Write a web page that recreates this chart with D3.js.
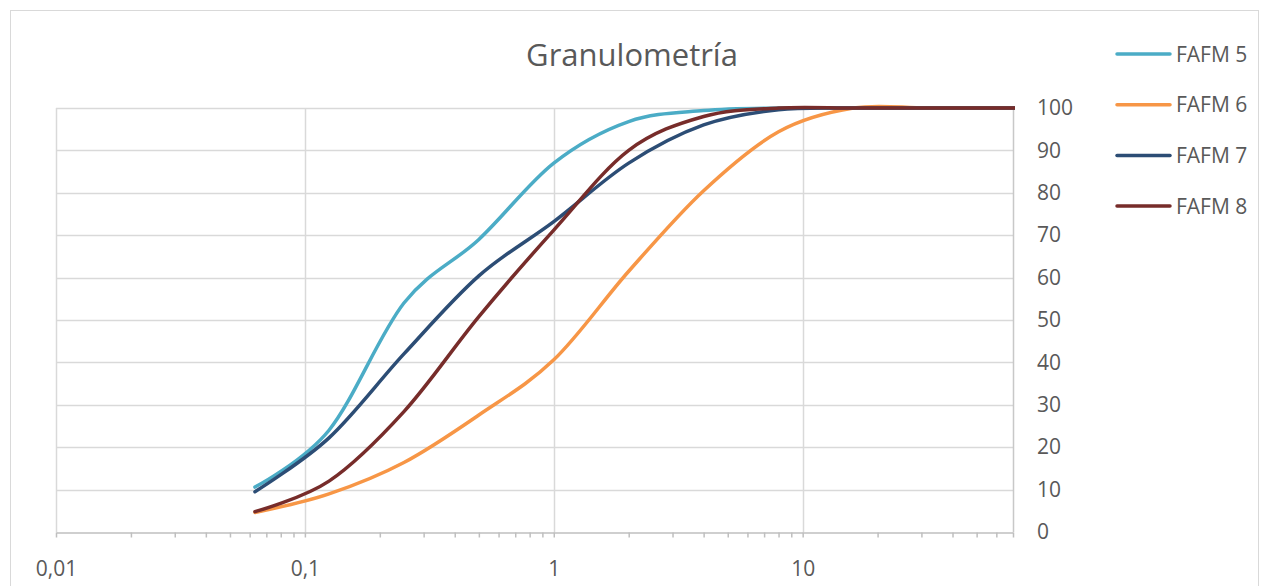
<!DOCTYPE html>
<html><head><meta charset="utf-8">
<script src="https://cdn.jsdelivr.net/npm/d3@7"></script>
<style>
body{margin:0;background:#fff}
svg{display:block}
text{font-family:"Open Sans",sans-serif;fill:#595959}
</style></head><body>
<script>
const titleText = "Granulometría";
const sizes = [0.063, 0.125, 0.25, 0.5, 1, 2, 4, 8, 16, 31.5, 63, 125];
const fafm5 = [10.6, 24, 54, 69, 87, 96.8, 99.4, 100, 100, 100, 100, 100];
const fafm6 = [4.6, 9, 16.4, 27.6, 40.6, 61.5, 80.5, 94.4, 100, 100, 100, 100];
const fafm7 = [9.5, 22.2, 42, 60.4, 73.2, 87, 96, 99.6, 100, 100, 100, 100];
const fafm8 = [4.8, 12, 28.4, 50.8, 71.2, 90, 98, 100, 100, 100, 100, 100];
const seriesNames = ["FAFM 5", "FAFM 6", "FAFM 7", "FAFM 8"];
const seriesColors = ["#4bacc6", "#f79646", "#2c4d75", "#772c2a"];
const xMajorTicks = [0.01, 0.1, 1, 10];
const yTicks = [0, 10, 20, 30, 40, 50, 60, 70, 80, 90, 100];
const xDomain = [0.01, 70];

const W = 1261, H = 586;
const plot = {left: 56, right: 1013, top: 108, bottom: 532};

const svg = d3.select("body").append("svg").attr("width", W).attr("height", H);

// chart area border
svg.append("rect").attr("x", 10.5).attr("y", 10.5).attr("width", 1248).attr("height", 620)
  .attr("fill", "none").attr("stroke", "#d9d9d9");

const x = d3.scaleLog().domain(xDomain).range([plot.left, plot.right]);
const y = d3.scaleLinear().domain([0, 100]).range([plot.bottom, plot.top]);

const loc = d3.formatLocale({decimal: ",", thousands: ".", grouping: [3], currency: ["", "€"]});
const fmt = loc.format("~g");

// horizontal gridlines
svg.append("g").selectAll("line").data(yTicks.filter(d => d > 0)).join("line")
  .attr("x1", plot.left).attr("x2", plot.right)
  .attr("y1", d => Math.round(y(d)) + 0.5).attr("y2", d => Math.round(y(d)) + 0.5)
  .attr("stroke", "#d9d9d9").attr("stroke-width", 1.5);

// vertical gridlines at decades
svg.append("g").selectAll("line").data(xMajorTicks).join("line")
  .attr("x1", d => Math.round(x(d)) + 0.5).attr("x2", d => Math.round(x(d)) + 0.5)
  .attr("y1", plot.top).attr("y2", plot.bottom)
  .attr("stroke", "#d9d9d9").attr("stroke-width", 1.5);

// right edge
svg.append("line").attr("x1", plot.right + 0.5).attr("x2", plot.right + 0.5)
  .attr("y1", plot.top).attr("y2", plot.bottom)
  .attr("stroke", "#c8c8c8").attr("stroke-width", 1.5);

// x axis
const allTicks = x.ticks();
const xAxis = d3.axisBottom(x).tickValues(allTicks)
  .tickFormat(d => xMajorTicks.some(m => Math.abs(m - d) < 1e-9) ? fmt(d) : "")
  .tickSize(5).tickSizeOuter(0).tickPadding(24);
const gx = svg.append("g").attr("transform", `translate(0,${plot.bottom + 0.5})`).call(xAxis);
gx.select(".domain").attr("stroke", "#bfbfbf").attr("stroke-width", 1.5);
gx.selectAll(".tick line").attr("stroke", "#bfbfbf").attr("stroke-width", 1.5);
gx.selectAll("text").attr("font-size", 21).attr("fill", "#595959").attr("font-family", '"Open Sans",sans-serif');

// y axis labels on right
const yAxis = d3.axisRight(y).tickValues(yTicks).tickSize(0).tickPadding(24);
const gy = svg.append("g").attr("transform", `translate(${plot.right},0)`).call(yAxis);
gy.select(".domain").remove();
gy.selectAll("text").attr("font-size", 21).attr("fill", "#595959").attr("font-family", '"Open Sans",sans-serif');

// clip
svg.append("clipPath").attr("id", "clip").append("rect")
  .attr("x", plot.left).attr("y", plot.top - 5).attr("width", plot.right - plot.left + 2).attr("height", plot.bottom - plot.top + 10);

const allSeries = [fafm5, fafm6, fafm7, fafm8];
const line = d3.line().x(d => x(d[0])).y(d => y(d[1])).curve(d3.curveCardinal.tension(0));
const gl = svg.append("g").attr("clip-path", "url(#clip)");
allSeries.forEach((vals, i) => {
  gl.append("path").datum(sizes.map((s, j) => [s, vals[j]]))
    .attr("d", line).attr("fill", "none").attr("stroke", seriesColors[i])
    .attr("stroke-width", 3.5).attr("stroke-linecap", "round").attr("stroke-linejoin", "round");
});

// title
svg.append("text").attr("x", 632).attr("y", 66).attr("text-anchor", "middle")
  .attr("font-size", 31).text(titleText);

// legend
const lg = svg.append("g");
seriesNames.forEach((n, i) => {
  const yy = 54 + i * 50.7;
  lg.append("line").attr("x1", 1117).attr("x2", 1170).attr("y1", yy).attr("y2", yy)
    .attr("stroke", seriesColors[i]).attr("stroke-width", 3.5).attr("stroke-linecap", "round");
  lg.append("text").attr("x", 1176).attr("y", yy).attr("dy", "0.36em").attr("font-size", 21).text(n);
});
</script>
</body></html>
